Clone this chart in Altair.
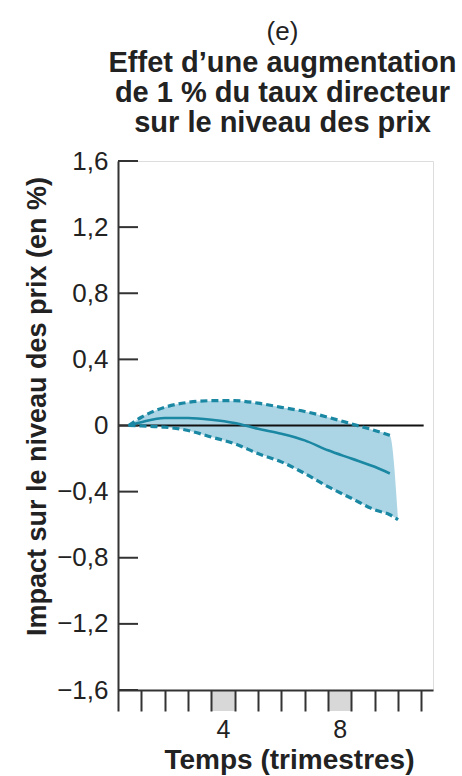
import altair as alt
import pandas as pd

# ---- data (x in axis-tick units) ----
x_q = [0.45, 1, 2, 3, 4, 5, 6, 7, 8, 9, 10, 11, 11.65]
mean_v = [0.0, 0.02, 0.045, 0.045, 0.035, 0.015, -0.02, -0.05, -0.09, -0.15, -0.20, -0.25, -0.29]
upper_v = [0.0, 0.05, 0.11, 0.14, 0.15, 0.15, 0.135, 0.11, 0.085, 0.05, 0.01, -0.03, -0.06]
lower_v = [0.0, -0.003, -0.01, -0.03, -0.07, -0.11, -0.17, -0.22, -0.29, -0.37, -0.44, -0.51, -0.54]
lower_end_x = 12.0
lower_end_v = -0.57

x_ticks = list(range(0, 14))
x_tick_labels = {4: "4", 9: "8"}
shade_start = [4, 9]
shade_end = [5, 10]
y_ticks = [-1.6, -1.2, -0.8, -0.4, 0, 0.4, 0.8, 1.2, 1.6]
zero_x = [0, 13.1]

W, H = 315, 529
TEAL = "#1a87a3"
FILL = "#a6d3e3"

df = pd.DataFrame({"x": x_q, "mean": mean_v, "upper": upper_v, "lower": lower_v})
df_area = pd.DataFrame({
    "x": x_q + [lower_end_x],
    "upper": upper_v + [lower_end_v],
    "lower": lower_v + [lower_end_v],
})
df_lower = pd.DataFrame({"x": x_q + [lower_end_x], "lower": lower_v + [lower_end_v]})
df_shade = pd.DataFrame({"x": shade_start, "x2": shade_end})
df_yt = pd.DataFrame({"y": y_ticks})
df_zero = pd.DataFrame({"x": [zero_x[0]], "x2": [zero_x[1]], "y": [0]})

label_expr = " : ".join(
    [f"datum.value == {k} ? '{v}'" for k, v in x_tick_labels.items()]
) + " : ''"

xscale = alt.Scale(domain=[0, 13.5], nice=False, zero=False)
yscale = alt.Scale(domain=[-1.6, 1.6], nice=False, zero=False)

FONT = "Liberation Sans"

x_axis = alt.Axis(
    values=x_ticks, labelExpr=label_expr, tickSize=21, tickWidth=2, tickColor="#333",
    domainColor="#333", domainWidth=2, labelOffset=11.7, labelPadding=6,
    labelFontSize=25, labelFont=FONT, labelColor="#222", grid=False,
    title="Temps (trimestres)", titleFontSize=28, titleFont=FONT, titleFontWeight="bold",
    titleColor="#222", titleX=171, titleY=78, titleBaseline="alphabetic",
    titleAlign="center", labelFlush=False, labelOverlap=False, zindex=1,
)
y_axis = alt.Axis(
    values=y_ticks,
    labelExpr="datum.value == 0 ? '0' : replace(replace(format(datum.value, '.1f'), '.', ','), '-', '\u2212')",
    ticks=False, labelPadding=10, domainColor="#333", domainWidth=2,
    labelFontSize=26, labelFont=FONT, labelColor="#222", grid=False,
    title="Impact sur le niveau des prix (en %)", titleFontSize=27, titleFont=FONT,
    titleFontWeight="bold", titleColor="#222", titleX=-73, titleY=245,
    titleBaseline="alphabetic", titleAlign="center", labelOverlap=False, zindex=1,
)

X = lambda f: alt.X(f, scale=xscale, axis=x_axis)
Y = lambda f: alt.Y(f, scale=yscale, axis=y_axis)

shade = alt.Chart(df_shade).mark_rect(color="#d8d8d8").encode(
    x=X("x:Q"),
    x2="x2:Q",
    y=alt.value(H),
    y2=alt.value(H + 21),
)

area = alt.Chart(df_area).mark_area(color=FILL, opacity=0.95, interpolate="monotone").encode(
    x=X("x:Q"),
    y=Y("upper:Q"),
    y2="lower:Q",
)

zero = alt.Chart(df_zero).mark_rule(color="#111", strokeWidth=2).encode(
    x=X("x:Q"), x2="x2:Q", y=Y("y:Q")
)

ytick = alt.Chart(df_yt).mark_rule(color="#333", strokeWidth=2).encode(
    y=Y("y:Q"), x=alt.value(0), x2=alt.value(20)
)

upper = alt.Chart(df).mark_line(color=TEAL, strokeWidth=3.2, strokeDash=[7, 4], interpolate="monotone").encode(
    x=X("x:Q"), y=Y("upper:Q")
)
lower = alt.Chart(df_lower).mark_line(color=TEAL, strokeWidth=3.2, strokeDash=[7, 4], interpolate="monotone").encode(
    x=X("x:Q"), y=Y("lower:Q")
)
mean = alt.Chart(df).mark_line(color=TEAL, strokeWidth=2.6, interpolate="monotone").encode(
    x=X("x:Q"), y=Y("mean:Q")
)

chart = alt.layer(shade, area, zero, ytick, upper, lower, mean).properties(
    width=W, height=H,
    autosize="none",
    padding={"left": 118, "top": 161, "right": 29, "bottom": 86},
    title=alt.TitleParams(
        text="(e)",
        subtitle=["Effet d\u2019une augmentation", "de 1 % du taux directeur", "sur le niveau des prix"],
        font=FONT, fontSize=26, fontWeight="normal", color="#222",
        subtitleFont=FONT, subtitleFontSize=29, subtitleFontWeight="bold",
        subtitleColor="#222", subtitleLineHeight=30, subtitlePadding=4,
        anchor="middle", dx=7, offset=10,
    ),
).configure_view(stroke=None).configure(background="white")

chart.save("out.html", embed_options={"renderer": "svg", "actions": False})
